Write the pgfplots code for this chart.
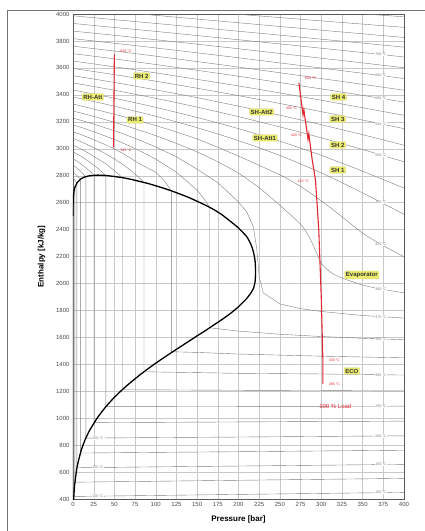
\documentclass[border=0pt]{standalone}
\usepackage{fontspec}
\setmainfont{Liberation Sans}
\usepackage{pgfplots}
\pgfplotsset{compat=1.18}

\definecolor{isoc}{RGB}{125,125,125}
\definecolor{gridc}{RGB}{200,200,200}
\definecolor{redl}{RGB}{225,40,50}
\definecolor{boxy}{RGB}{236,236,110}

\tikzset{
    iso/.style={isoc, line width=0.4pt},
    isos/.style={isoc, line width=0.4pt, smooth, tension=0.4},
    lbl/.style={font=\fontsize{3.6}{4}\selectfont, text=isoc, fill=white, inner sep=0.4pt},
    ybox/.style={fill=boxy, draw=boxy!80!black!60, line width=0.2pt, rounded corners=1pt,
                 inner sep=1.3pt, font=\fontsize{6}{7}\selectfont\bfseries, text=black!80},
    rlbl/.style={font=\fontsize{3.6}{4}\selectfont, text=redl},
}

\begin{document}
\begin{tikzpicture}
\useasboundingbox (-73pt,-32pt) rectangle (351pt,499pt);
\begin{axis}[
    at={(0,0)}, anchor=south west,
    scale only axis, width=331pt, height=485pt,
    xmin=0, xmax=400, ymin=400, ymax=4000,
    xtick={0,25,...,400}, ytick={400,600,...,4000},
    grid=major, major grid style={gridc, line width=0.3pt},
    major tick length=0pt,
    axis line style={black!65, line width=0.8pt},
    tick label style={font=\fontsize{6}{7}\selectfont, text=black!70},
    /pgf/number format/.cd, 1000 sep={}, assume math mode=true,
    /pgfplots/.cd,
    xlabel={Pressure [bar]}, ylabel={Enthalpy [kJ/kg]},
    label style={font=\fontsize{8}{9}\selectfont\bfseries},
    xlabel style={yshift=-2pt},
    ylabel style={yshift=4pt},
]
% isotherms, subcritical (vapour - two phase - liquid)
\addplot[iso] coordinates {(0,2547) (0.032,2546) (0.032,105) (400,140)};
\addplot[iso] coordinates {(0,2592) (0.12,2591) (0.12,209) (400,245)};
\addplot[iso] coordinates {(0,2640) (0.39,2635) (0.39,314) (400,347)};
\addplot[iso] coordinates {(0,2687) (1.01,2676) (1.01,419) (100,426.5) (200,434) (300,441.6) (400,449)};
\addplot[iso] coordinates {(0,2735) (2.32,2713) (2.32,525) (100,531.8) (200,539) (300,546) (400,553)};
\addplot[iso] coordinates {(0,2783) (1,2776) (4.76,2746) (4.76,632) (100,638.5) (200,644.7) (300,650.9) (400,657)};
\addplot[iso] coordinates {(0,2830) (5,2800) (8.92,2773) (8.92,741) (100,746) (200,751) (300,756.5) (400,762)};
\addplot[iso] coordinates {(0,2880) (5,2855) (10,2828) (15.5,2792) (15.5,852) (100,856) (200,860) (300,864.5) (400,869)};
\addplot[iso] coordinates {(0,2927) (10,2885) (20,2836) (25.5,2802) (25.5,967) (100,969) (200,972) (300,975) (400,978)};
\addplot[iso] coordinates {(0,2977) (10,2943) (20,2902) (30,2856) (39.7,2801) (39.7,1086) (100,1086) (200,1087) (300,1088) (400,1089)};
\addplot[iso] coordinates {(0,3027) (10,2997) (20,2963) (30,2925) (40,2886) (50,2838) (59.5,2785) (59.5,1211) (100,1210) (200,1207) (300,1205) (400,1202)};
\addplot[iso] coordinates {(0,3077) (10,3051) (20,3023) (30,2993) (40,2961) (50,2924) (60,2884) (70,2838) (80,2785) (85.8,2749) (85.8,1345) (100,1343) (150,1338) (200,1333) (300,1328) (400,1320)};
\addplot[iso] coordinates {(0,3127) (10,3104) (20,3080) (30,3054) (40,3028) (50,2998) (60,2966) (80,2890) (100,2826) (110,2765) (119.2,2686) (119.2,1493) (150,1488) (200,1476) (300,1460) (400,1448)};
\addplot[iso] coordinates {(0,3177) (10,3158) (20,3137) (30,3115) (40,3092) (50,3068) (60,3043) (80,2987) (100,2923) (125,2826) (150,2692) (160,2615) (165.2,2563) (165.2,1671) (200,1646) (250,1623) (300,1606) (350,1593) (400,1582)};
% supercritical isotherms
\addplot[iso] coordinates {(0,3228) (10,3210) (20,3192) (30,3173) (40,3153) (50,3134) (60,3112) (80,3065) (100,3013) (125,2940) (150,2848) (175,2748) (200,2605) (210,2530) (218,2420) (222,2260) (225,2050) (230,1930) (250,1848) (275,1813) (300,1792) (350,1762) (400,1743)};
\addplot[isos] coordinates {(0,3280) (25,3240) (50,3196) (75,3148) (100,3097) (125,3039) (150,2976) (175,2903) (200,2818) (225,2710) (250,2580) (275,2440) (285,2350) (292,2260) (300,2151) (308,2100) (315,2068) (325,2040) (350,1988) (375,1955) (400,1931)};
\addplot[isos] coordinates {(0,3332) (50,3256) (100,3172) (150,3072) (200,2945) (250,2806) (275,2720) (300,2614) (325,2495) (350,2373) (375,2280) (400,2198)};
\addplot[isos] coordinates {(0,3384) (50,3316) (100,3241) (150,3156) (200,3060) (250,2950) (300,2821) (350,2672) (400,2513)};
\addplot[isos] coordinates {(0,3436) (50,3375) (100,3307) (150,3232) (200,3149) (250,3056) (300,2951) (350,2833) (400,2708)};
\addplot[isos] coordinates {(0,3489) (50,3434) (100,3374) (150,3309) (200,3238) (250,3162) (300,3081) (350,2994) (400,2903)};
\addplot[isos] coordinates {(0,3542) (50,3492) (100,3437) (150,3379) (200,3316) (250,3249) (300,3178) (350,3104) (400,3026)};
\addplot[isos] coordinates {(0,3596) (50,3550) (100,3501) (150,3449) (200,3394) (250,3336) (300,3275) (350,3213) (400,3149)};
\addplot[isos] coordinates {(0,3651) (50,3608) (100,3563) (150,3515) (200,3466) (250,3414) (300,3360) (350,3304) (400,3248)};
\addplot[isos] coordinates {(0,3706) (50,3667) (100,3625) (150,3582) (200,3538) (250,3491) (300,3444) (350,3396) (400,3346)};
\addplot[isos] coordinates {(0,3761) (50,3725) (100,3687) (150,3647) (200,3606) (250,3564) (300,3521) (350,3478) (400,3434)};
\addplot[isos] coordinates {(0,3817) (50,3783) (100,3748) (150,3712) (200,3675) (250,3637) (300,3599) (350,3560) (400,3521)};
\addplot[isos] coordinates {(0,3873) (50,3842) (100,3809) (150,3776) (200,3742) (250,3707) (300,3672) (350,3637) (400,3601)};
\addplot[isos] coordinates {(0,3930) (50,3900) (100,3871) (150,3840) (200,3809) (250,3778) (300,3746) (350,3714) (400,3681)};
\addplot[isos] coordinates {(0,3987) (50,3958) (100,3930) (150,3901) (200,3872) (250,3843) (300,3813) (350,3784) (400,3754)};
\addplot[isos] coordinates {(0,4044) (100,3990) (200,3935) (300,3880) (400,3826)};
\addplot[isos] coordinates {(0,4101) (100,4050) (200,3998) (300,3949) (400,3901)};
\addplot[isos] coordinates {(0,4158) (100,4115) (200,4070) (300,4024) (400,3979)};

% saturation dome
\addplot[black, line width=1.3pt, smooth, tension=0.3] coordinates {
 (0.006,2501) (0.03,2546) (0.12,2591) (0.39,2635) (1,2675) (2,2707) (5,2748) (10,2778)
 (15,2792) (20,2799) (30,2804) (40,2801) (50,2794) (60,2785) (70,2773) (80,2758) (90,2743)
 (100,2725) (110,2706) (120,2685) (130,2662) (140,2638) (150,2610) (160,2581) (170,2549)
 (180,2510) (190,2462) (200,2412) (210,2347) (215,2290) (218,2235) (220,2170) (220.64,2084)
 (220,2011) (218,1962) (215,1930) (210,1889) (200,1827) (190,1776) (180,1732) (170,1691)
 (160,1650) (150,1611) (140,1571) (130,1531) (120,1491) (110,1450) (100,1408) (90,1364)
 (80,1317) (70,1267) (60,1214) (50,1155) (40,1087) (30,1008) (20,909) (15,845) (10,763)
 (5,640) (2,505) (1,418) (0.5,340)};

% boiler lines at 100 % load
\addplot[redl, line width=1.1pt] coordinates {
 (302,1255) (302,1420) (300,1900) (297,2400) (293,2770) (289,2920) (285,3110) (284,3070)
 (279,3290) (278,3250) (273,3490)};
\addplot[redl, line width=1.1pt] coordinates {(49,3010) (49.5,3390) (49.5,3360) (50,3700)};

% isotherm labels
\node[lbl] at (axis cs:372,447) {100 °C};
\node[lbl] at (axis cs:372,655) {150 °C};
\node[lbl] at (axis cs:372,868) {200 °C};
\node[lbl] at (axis cs:372,1089) {250 °C};
\node[lbl] at (axis cs:372,1322) {300 °C};
\node[lbl] at (axis cs:372,1585) {350 °C};
\node[lbl] at (axis cs:372,1751) {375 °C};
\node[lbl] at (axis cs:372,1958) {400 °C};
\node[lbl] at (axis cs:372,2290) {425 °C};
\node[lbl] at (axis cs:372,2602) {450 °C};
\node[lbl] at (axis cs:372,2954) {500 °C};
\node[lbl] at (axis cs:372,3185) {550 °C};
\node[lbl] at (axis cs:372,3374) {600 °C};
\node[lbl] at (axis cs:372,3543) {650 °C};
\node[lbl] at (axis cs:372,3700) {700 °C};
\node[lbl] at (axis cs:30,422) {100 °C};
\node[lbl] at (axis cs:30,634) {150 °C};
\node[lbl] at (axis cs:30,854) {200 °C};

% red labels
\node[rlbl, anchor=west] at (axis cs:53,3720) {620 °C};
\node[rlbl, anchor=west] at (axis cs:53,2990) {345 °C};
\node[rlbl, anchor=west] at (axis cs:276,3520) {600 °C};
\node[rlbl, anchor=east] at (axis cs:275,3300) {455 °C};
\node[rlbl, anchor=east] at (axis cs:281,3100) {420 °C};
\node[rlbl, anchor=east] at (axis cs:289,2760) {410 °C};
\node[rlbl, anchor=west] at (axis cs:305,1430) {330 °C};
\node[rlbl, anchor=west] at (axis cs:305,1250) {285 °C};
\node[font=\fontsize{6}{7}\selectfont, text=redl] at (axis cs:317,1090) {100 \% Load};

% section labels
\node[ybox] at (axis cs:83,3540) {RH 2};
\node[ybox] at (axis cs:24,3384) {RH-Att};
\node[ybox] at (axis cs:75,3214) {RH 1};
\node[ybox] at (axis cs:228,3273) {SH-Att2};
\node[ybox] at (axis cs:232,3080) {SH-Att1};
\node[ybox] at (axis cs:321,3384) {SH 4};
\node[ybox] at (axis cs:320,3221) {SH 3};
\node[ybox] at (axis cs:320,3028) {SH 2};
\node[ybox] at (axis cs:320,2842) {SH 1};
\node[ybox] at (axis cs:349,2063) {Evaporator};
\node[ybox] at (axis cs:337,1350) {ECO};
\end{axis}
\draw[black!55, line width=0.8pt] (-66pt,-40pt) -- (-66pt,489pt) -- (360pt,489pt);
\end{tikzpicture}
\end{document}
